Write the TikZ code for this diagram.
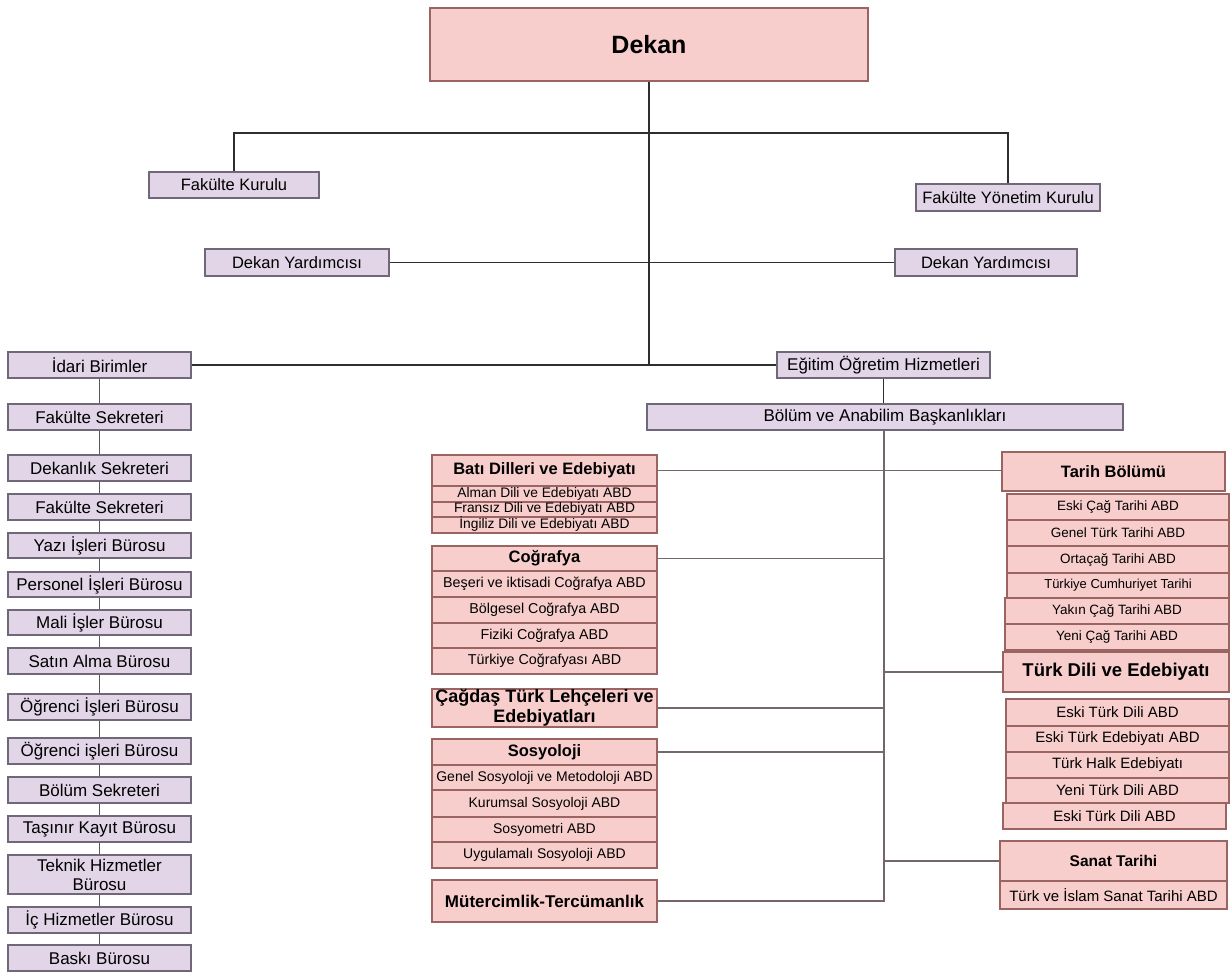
\documentclass[tikz,border=0pt]{standalone}
\usepackage{fontspec}
\setmainfont{Liberation Sans}
\definecolor{kfill}{HTML}{F8CECC}
\definecolor{kdraw}{HTML}{9A6462}
\definecolor{pfill}{HTML}{E1D5E7}
\definecolor{pdraw}{HTML}{6E6878}
\definecolor{lndark}{HTML}{2E2E2E}
\definecolor{lnsoft}{HTML}{756767}
\newcommand\mkbox[7]{%
  \pgfmathsetmacro\bcx{(#3+#5)/2}\pgfmathsetmacro\bcy{(#4+#6)/2}%
  \pgfmathsetmacro\bw{#5-#3}\pgfmathsetmacro\bh{#6-#4}%
  \node[#2, minimum width=\bw pt, minimum height=\bh pt] (#1) at (\bcx,\bcy) {#7};}
\tikzset{
  pp/.style={draw=pdraw, fill=pfill, line width=1.2pt, inner sep=0pt, align=center, font=\fontsize{17}{19}\selectfont},
  pt/.style={pp, font=\fontsize{16.5}{19}\selectfont},
  pk/.style={draw=kdraw, fill=kfill, line width=1.2pt, inner sep=0pt, align=center},
  hd/.style={pk, font=\bfseries\fontsize{16.5}{19}\selectfont},
  rw/.style={pk, font=\fontsize{14}{16}\selectfont},
  cn/.style={draw=lndark, line width=1.5pt},
  cs/.style={draw=lnsoft, line width=1.4pt},
}
\begin{document}
\begin{tikzpicture}[x=1pt,y=-1pt]
\useasboundingbox (0,0) rectangle (1231,974);
\fill[white] (0,0) rectangle (1231,974);

% top level
\mkbox{dekan}{pk, font=\bfseries\fontsize{25}{28}\selectfont}{430}{8}{868}{81}{Dekan}
\mkbox{fk}{pt}{149}{172}{319}{198}{Fakülte Kurulu}
\mkbox{fyk}{pt}{916}{184}{1100}{211}{Fakülte Yönetim Kurulu}
\mkbox{dya}{pt}{205}{249}{389}{276}{Dekan Yardımcısı}
\mkbox{dyb}{pt}{895}{249}{1077}{276}{Dekan Yardımcısı}
\mkbox{idari}{pp}{8}{352}{191}{378}{İdari Birimler}
\mkbox{egitim}{pp}{777}{352}{990}{378}{Eğitim Öğretim Hizmetleri}
\mkbox{bolum}{pp}{647}{404}{1123}{430}{Bölüm ve Anabilim Başkanlıkları}

% left column
\mkbox{l1}{pp}{8}{404}{191}{430}{Fakülte Sekreteri}
\mkbox{l2}{pp}{8}{455}{191}{481}{Dekanlık Sekreteri}
\mkbox{l3}{pp}{8}{494}{191}{520}{Fakülte Sekreteri}
\mkbox{l4}{pp}{8}{533}{191}{558}{Yazı İşleri Bürosu}
\mkbox{l5}{pp}{8}{572}{191}{597}{Personel İşleri Bürosu}
\mkbox{l6}{pp}{8}{610}{191}{635}{Mali İşler Bürosu}
\mkbox{l7}{pp}{8}{648}{191}{674}{Satın Alma Bürosu}
\mkbox{l8}{pp}{8}{694}{191}{720}{Öğrenci İşleri Bürosu}
\mkbox{l9}{pp}{8}{738}{191}{764}{Öğrenci işleri Bürosu}
\mkbox{l10}{pp}{8}{777}{191}{803}{Bölüm Sekreteri}
\mkbox{l11}{pp}{8}{816}{191}{842}{Taşınır Kayıt Bürosu}
\mkbox{l12}{pp}{8}{855}{191}{894}{Teknik Hizmetler\\Bürosu}
\mkbox{l13}{pp}{8}{907}{191}{933}{İç Hizmetler Bürosu}
\mkbox{l14}{pp}{8}{945}{191}{971}{Baskı Bürosu}

% centre column
\mkbox{bati}{hd}{432}{455}{657}{486}{Batı Dilleri ve Edebiyatı}
\mkbox{b1}{pk, font=\fontsize{13.8}{15}\selectfont, text height=9.5pt, text depth=2.6pt}{432}{486}{657}{502}{Alman Dili ve Edebiyatı ABD}
\mkbox{b2}{pk, font=\fontsize{13.8}{15}\selectfont, text height=9.5pt, text depth=2.6pt}{432}{502}{657}{517}{Fransız Dili ve Edebiyatı ABD}
\mkbox{b3}{pk, font=\fontsize{13.8}{15}\selectfont, text height=9.5pt, text depth=2.6pt}{432}{517}{657}{533}{İngiliz Dili ve Edebiyatı ABD}

\mkbox{cog}{hd}{432}{546}{657}{571}{Coğrafya}
\mkbox{c1}{rw, font=\fontsize{14.3}{16}\selectfont}{432}{571}{657}{597}{Beşeri ve iktisadi Coğrafya ABD}
\mkbox{c2}{rw, font=\fontsize{14.3}{16}\selectfont}{432}{597}{657}{623}{Bölgesel Coğrafya ABD}
\mkbox{c3}{rw, font=\fontsize{14.3}{16}\selectfont}{432}{623}{657}{648}{Fiziki Coğrafya ABD}
\mkbox{c4}{rw, font=\fontsize{14.3}{16}\selectfont}{432}{648}{657}{674}{Türkiye Coğrafyası ABD}

\mkbox{cagdas}{hd, font=\bfseries\fontsize{18}{20}\selectfont}{432}{689}{657}{727}{Çağdaş Türk Lehçeleri ve\\Edebiyatları}

\mkbox{sos}{hd}{432}{739}{657}{765}{Sosyoloji}
\mkbox{s1}{rw}{432}{765}{657}{790}{Genel Sosyoloji ve Metodoloji ABD}
\mkbox{s2}{rw}{432}{790}{657}{817}{Kurumsal Sosyoloji ABD}
\mkbox{s3}{rw}{432}{817}{657}{842}{Sosyometri ABD}
\mkbox{s4}{rw}{432}{842}{657}{868}{Uygulamalı Sosyoloji ABD}

\mkbox{mut}{hd, font=\bfseries\fontsize{17}{19}\selectfont}{432}{880}{657}{922}{Mütercimlik-Tercümanlık}

% right column
\mkbox{tarih}{hd}{1002}{452}{1225}{491}{Tarih Bölümü}
\mkbox{t1}{rw, font=\fontsize{13.5}{15}\selectfont}{1007}{494}{1229}{520}{Eski Çağ Tarihi ABD}
\mkbox{t2}{rw, font=\fontsize{13.5}{15}\selectfont}{1007}{520}{1229}{546}{Genel Türk Tarihi ABD}
\mkbox{t3}{rw, font=\fontsize{13.5}{15}\selectfont}{1007}{546}{1229}{573}{Ortaçağ Tarihi ABD}
\mkbox{t4}{rw, font=\fontsize{13}{15}\selectfont}{1007}{573}{1229}{598}{Türkiye Cumhuriyet Tarihi}
\mkbox{t5}{rw, font=\fontsize{13.5}{15}\selectfont}{1005}{598}{1229}{624}{Yakın Çağ Tarihi ABD}
\mkbox{t6}{rw, font=\fontsize{13.5}{15}\selectfont}{1005}{624}{1229}{650}{Yeni Çağ Tarihi ABD}

\mkbox{turk}{hd, font=\bfseries\fontsize{18.5}{21}\selectfont}{1003}{652}{1229}{692}{Türk Dili ve Edebiyatı}
\mkbox{d1}{rw, font=\fontsize{15}{17}\selectfont}{1006}{699}{1229}{726}{Eski Türk Dili ABD}
\mkbox{d2}{rw, font=\fontsize{15}{17}\selectfont}{1006}{726}{1229}{752}{Eski Türk Edebiyatı ABD}
\mkbox{d3}{rw, font=\fontsize{15}{17}\selectfont}{1006}{752}{1229}{778}{Türk Halk Edebiyatı}
\mkbox{d4}{rw, font=\fontsize{15}{17}\selectfont}{1006}{778}{1229}{803}{Yeni Türk Dili ABD}
\mkbox{d5}{rw, font=\fontsize{15}{17}\selectfont}{1003}{803}{1226}{829}{Eski Türk Dili ABD}

\mkbox{sanat}{hd, font=\bfseries\fontsize{15.5}{18}\selectfont}{1000}{841}{1227}{881}{Sanat Tarihi}
\mkbox{a1}{rw, font=\fontsize{15}{17}\selectfont}{1000}{881}{1227}{909}{Türk ve İslam Sanat Tarihi ABD}

% connectors (top)
\coordinate (j1) at (649,133);
\coordinate (sp) at (884,0);
\draw[cn] (fk.north) |- (j1) -| (fyk.north);
\draw[cn] (dya.east) -- (dyb.west);
\draw[cn] (idari.east) -- (egitim.west);
\draw[cn] (dekan.south) -- (dekan.south |- idari.east);
\draw[cn] (egitim.south) -- (egitim.south |- bolum.north);

% left chain
\foreach \a/\b in {idari/l1,l1/l2,l2/l3,l3/l4,l4/l5,l5/l6,l6/l7,l7/l8,l8/l9,l9/l10,l10/l11,l11/l12,l12/l13,l13/l14}
  \draw[cn, draw=lndark!80] (\a.south) -- (\b.north);

% spine and branches
\draw[cs] (sp |- bolum.south) -- (sp |- mut.east) -- (mut.east);
\draw[cs] (bati.east) -- (tarih.west |- bati.east);
\draw[cs] (cog.east) -- (sp |- cog.east);
\draw[cs] (cagdas.east) -- (sp |- cagdas.east);
\draw[cs] (sos.east) -- (sp |- sos.east);
\draw[cs] (sp |- turk.west) -- (turk.west);
\draw[cs] (sp |- sanat.west) -- (sanat.west);
\end{tikzpicture}
\end{document}
